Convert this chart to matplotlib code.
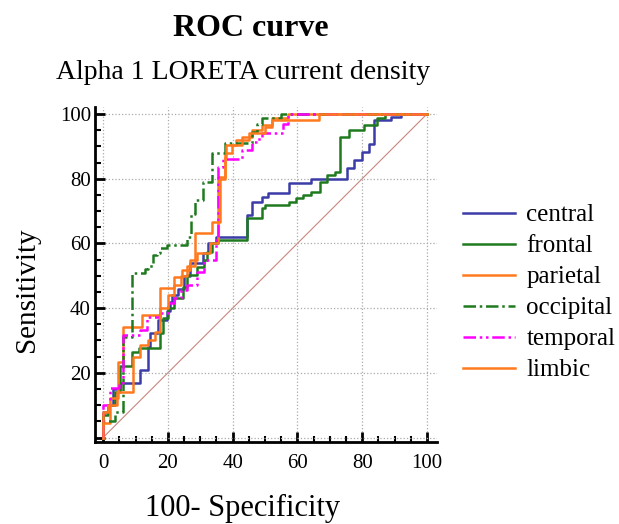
import matplotlib
matplotlib.use("Agg")
import matplotlib.pyplot as plt
from matplotlib.ticker import MultipleLocator

plt.rcParams["font.family"] = ["Liberation Serif", "DejaVu Serif"]

# ROC staircases: (false positive rate at jump, sensitivity after jump), in %
central_x = [0, 1.6, 3, 5.2, 11.4, 13.8, 14.5, 17, 19.7, 20.5, 21.2, 23, 25, 26.8, 30.9, 32.5, 35,
             44.3, 46, 49, 51, 57.5, 64.3, 75.4, 77.5, 80, 82, 83.7, 89, 92, 100]
central_y = [8, 10, 15, 17, 21, 28, 32.4, 36.4, 39, 42, 44, 46, 50, 54, 57, 60, 62,
             68.8, 72.8, 74.4, 75.6, 78.7, 80, 83.3, 85.8, 88.3, 90.7, 98, 99, 100, 100]

frontal_x = [0, 1.6, 3.7, 5.2, 8.9, 11, 17.5, 18.5, 20, 22, 24.6, 26, 29, 31, 32, 33.5, 35.4,
             44.3, 49, 50, 57.5, 59.5, 61.6, 64.3, 67, 69, 71.5, 73, 76, 80.5, 84.6, 87, 100]
frontal_y = [7, 10, 14, 22, 26.5, 27.8, 32.4, 37, 40, 43, 46.6, 50.3, 52.8, 55, 57.4, 60, 61,
             67.9, 71, 72, 72.8, 74, 75, 76, 79, 81, 82, 93, 95, 96.6, 98.8, 100, 100]

parietal_x = [0, 2.2, 4.6, 6.2, 12, 17.5, 22, 24.3, 26.8, 29, 33, 35.4, 37.5, 39.7, 41, 43,
              46, 49, 52, 57, 100]
parietal_y = [4.6, 12.3, 23.5, 34.3, 38, 46.3, 49.7, 51.8, 55, 57, 60, 80.6, 88, 90.4, 92, 93,
              95, 96.6, 98.8, 100, 100]

occipital_x = [0, 3.7, 6.2, 8.9, 12.9, 13.8, 15.4, 16.6, 17.5, 19.7, 26, 27, 28.3, 30.8, 33.5,
               37.5, 46, 47.5, 49, 55, 100]
occipital_y = [5, 8, 31, 51, 52, 53, 56.5, 57, 58.6, 59.5, 62, 69, 73.5, 79, 88,
               91, 94.5, 97, 98.8, 100, 100]

temporal_x = [0, 2, 5, 6.2, 11.4, 13.5, 17.5, 20, 22, 24, 26, 29, 31, 35, 35.5, 37, 43, 46,
              48, 49, 55.5, 57, 100]
temporal_y = [10, 15.4, 17, 31.8, 33.3, 37.3, 38.5, 41.6, 43.2, 45.7, 47.2, 51.2, 55, 61, 83.6,
              86, 89, 91.4, 93, 94, 97, 100, 100]

limbic_x = [0, 1.6, 4.3, 9.2, 11.4, 14, 16, 17.5, 20, 22, 24, 26, 28.3, 33.5, 36, 37.5, 38, 43,
            45, 50, 52, 66.8, 100]
limbic_y = [8, 10, 14.2, 25, 28.7, 30, 32.7, 40, 44, 47, 50, 53, 63.3, 66.7, 80, 86.7, 90.4, 92,
            94, 96, 98.2, 100, 100]

series = [
    ("central", central_x, central_y, "#3c3ca8", "-"),
    ("frontal", frontal_x, frontal_y, "#1f7a1f", "-"),
    ("parietal", parietal_x, parietal_y, "#ff7a1e", "-"),
    ("occipital", occipital_x, occipital_y, "#1f7a1f", (0, (5, 1.5, 1, 1.5))),
    ("temporal", temporal_x, temporal_y, "#ff00ff", (0, (5, 1.5, 1, 1.5, 1, 1.5))),
    ("limbic", limbic_x, limbic_y, "#ff7a1e", "-"),
]

fig = plt.figure(figsize=(6.19, 5.24), dpi=100)
ax = fig.add_axes([0.1535, 0.157, 0.552, 0.639])

ax.plot([0, 100], [0, 100], color="#c8877d", lw=0.8, zorder=1)
for name, xs, ys, col, ls in series:
    ax.step([0] + xs, [0] + ys, where="post", color=col, lw=1.8, ls=ls, label=name, zorder=2)

ax.set_xlim(-2.5, 103)
ax.set_ylim(-1.3, 102.2)
ax.xaxis.set_minor_locator(MultipleLocator(5))
ax.yaxis.set_minor_locator(MultipleLocator(5))
ax.set_xticks([0, 20, 40, 60, 80, 100])
ax.set_yticks([0, 20, 40, 60, 80, 100])
ax.set_yticklabels(["", "20", "40", "60", "80", "100"])
ax.grid(True, which="major", color="#aaaaaa", ls=":", lw=0.9)

for s in ["top", "right"]:
    ax.spines[s].set_visible(False)
for s in ["left", "bottom"]:
    ax.spines[s].set_linewidth(2)
ax.tick_params(which="major", direction="in", length=7, width=2, labelsize=15)
ax.tick_params(axis="x", which="major", pad=9)
ax.tick_params(axis="y", which="major", pad=3)
ax.tick_params(which="minor", direction="in", length=4, width=1.5)

ax.set_xlabel("100- Specificity", fontsize=22)
ax.set_ylabel("Sensitivity", fontsize=21)
ax.xaxis.set_label_coords(0.433, -0.157)
ax.yaxis.set_label_coords(-0.161, 0.454)

fig.text(0.405, 0.945, "ROC curve", ha="center", va="center", fontsize=23, fontweight="bold")
fig.text(0.392, 0.862, "Alpha 1 LORETA current density", ha="center", va="center", fontsize=20)

fig.legend(loc="upper left", bbox_to_anchor=(0.727, 0.635), frameon=False, fontsize=18,
           handlelength=2.1, labelspacing=0.34, borderpad=0, handletextpad=0.45)

fig.savefig("out.png", dpi=100)
